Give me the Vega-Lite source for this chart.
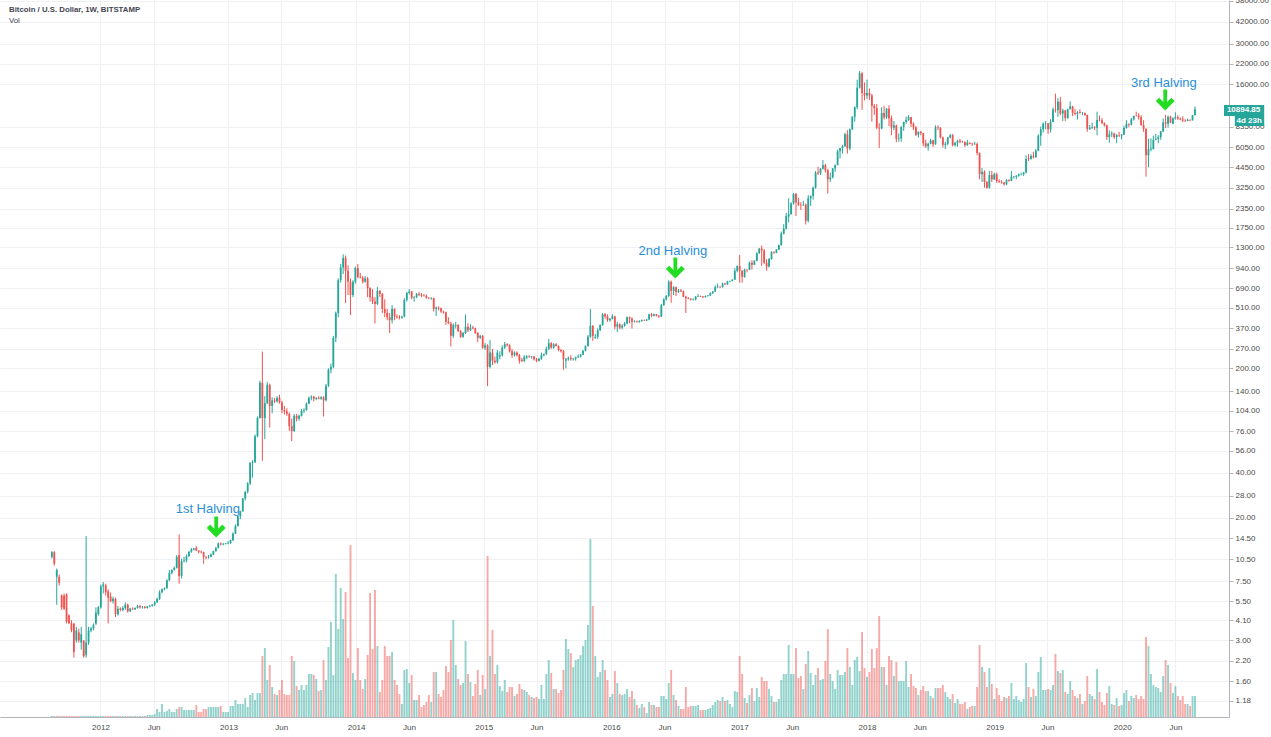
{
"$schema": "https://vega.github.io/schema/vega-lite/v6.json",
"width": 1229, "height": 717,
"autosize": {"type": "none"},
"padding": {"left": 0, "top": 0, "right": 42, "bottom": 20},
"background": "white",
"config": {"view": {"stroke": null}, "font": "Liberation Sans"},
"datasets": {"weekly": [
{"t":"2011-08-15","o":10.9,"h":11.9,"l":10.6,"c":11.7,"v":1},
{"t":"2011-08-22","o":11.7,"h":11.9,"l":9.5,"c":9.8,"v":1},
{"t":"2011-08-29","o":8.0,"h":9.1,"l":5.2,"c":8.9,"v":1},
{"t":"2011-09-05","o":8.0,"h":8.3,"l":7.0,"c":7.3,"v":1},
{"t":"2011-09-12","o":6.0,"h":6.1,"l":4.8,"c":5.0,"v":1},
{"t":"2011-09-19","o":6.0,"h":6.2,"l":4.8,"c":4.9,"v":1},
{"t":"2011-09-26","o":6.1,"h":6.2,"l":3.9,"c":4.0,"v":1},
{"t":"2011-10-03","o":4.4,"h":4.5,"l":3.9,"c":3.9,"v":1},
{"t":"2011-10-10","o":3.9,"h":4.1,"l":3.4,"c":3.5,"v":1},
{"t":"2011-10-17","o":3.9,"h":3.9,"l":2.3,"c":2.5,"v":1},
{"t":"2011-10-24","o":3.0,"h":3.7,"l":2.9,"c":3.5,"v":1},
{"t":"2011-10-31","o":3.4,"h":3.6,"l":2.9,"c":3.0,"v":1},
{"t":"2011-11-07","o":2.9,"h":3.7,"l":2.6,"c":3.3,"v":1},
{"t":"2011-11-14","o":3.0,"h":3.0,"l":2.3,"c":2.35,"v":1},
{"t":"2011-11-21","o":2.4,"h":15.0,"l":2.3,"c":2.9,"v":1},
{"t":"2011-11-28","o":2.9,"h":3.7,"l":2.8,"c":3.5,"v":1},
{"t":"2011-12-05","o":3.5,"h":3.7,"l":3.4,"c":3.6,"v":1},
{"t":"2011-12-12","o":3.6,"h":3.9,"l":3.5,"c":3.8,"v":1},
{"t":"2011-12-19","o":3.9,"h":5.0,"l":3.8,"c":4.6,"v":1},
{"t":"2011-12-26","o":4.5,"h":5.1,"l":4.4,"c":5.0,"v":1},
{"t":"2012-01-02","o":5.0,"h":7.1,"l":4.9,"c":6.9,"v":1},
{"t":"2012-01-09","o":6.9,"h":7.4,"l":6.2,"c":7.1,"v":1},
{"t":"2012-01-16","o":7.0,"h":7.2,"l":6.0,"c":6.3,"v":1},
{"t":"2012-01-23","o":6.4,"h":6.6,"l":3.9,"c":5.8,"v":1},
{"t":"2012-01-30","o":5.9,"h":6.3,"l":5.4,"c":5.5,"v":1},
{"t":"2012-02-06","o":5.5,"h":5.9,"l":5.3,"c":5.7,"v":1},
{"t":"2012-02-13","o":5.7,"h":5.8,"l":4.3,"c":4.5,"v":1},
{"t":"2012-02-20","o":4.5,"h":5.1,"l":4.4,"c":4.9,"v":1},
{"t":"2012-02-27","o":4.9,"h":5.0,"l":4.7,"c":4.8,"v":1},
{"t":"2012-03-05","o":4.8,"h":5.1,"l":4.7,"c":4.95,"v":1},
{"t":"2012-03-12","o":4.95,"h":5.4,"l":4.8,"c":5.2,"v":1},
{"t":"2012-03-19","o":5.2,"h":5.3,"l":4.6,"c":4.7,"v":1},
{"t":"2012-03-26","o":4.7,"h":4.95,"l":4.65,"c":4.9,"v":1},
{"t":"2012-04-02","o":4.9,"h":5.0,"l":4.8,"c":4.85,"v":1},
{"t":"2012-04-09","o":4.85,"h":5.0,"l":4.8,"c":4.95,"v":1},
{"t":"2012-04-16","o":4.95,"h":5.2,"l":4.9,"c":5.1,"v":1},
{"t":"2012-04-23","o":5.1,"h":5.2,"l":4.9,"c":5.0,"v":1},
{"t":"2012-04-30","o":5.0,"h":5.1,"l":4.9,"c":5.05,"v":1},
{"t":"2012-05-07","o":5.05,"h":5.1,"l":4.9,"c":4.95,"v":1},
{"t":"2012-05-14","o":4.95,"h":5.1,"l":4.9,"c":5.05,"v":2},
{"t":"2012-05-21","o":5.05,"h":5.2,"l":5.0,"c":5.1,"v":2},
{"t":"2012-05-28","o":5.1,"h":5.25,"l":5.05,"c":5.2,"v":2},
{"t":"2012-06-04","o":5.2,"h":5.5,"l":5.1,"c":5.4,"v":3},
{"t":"2012-06-11","o":5.4,"h":5.8,"l":5.35,"c":5.7,"v":8},
{"t":"2012-06-18","o":5.7,"h":6.5,"l":5.6,"c":6.3,"v":5},
{"t":"2012-06-25","o":6.3,"h":6.7,"l":6.2,"c":6.6,"v":13},
{"t":"2012-07-02","o":6.6,"h":6.8,"l":6.5,"c":6.7,"v":5},
{"t":"2012-07-09","o":6.7,"h":7.7,"l":6.65,"c":7.6,"v":6},
{"t":"2012-07-16","o":7.6,"h":8.9,"l":7.5,"c":8.5,"v":8},
{"t":"2012-07-23","o":8.5,"h":9.0,"l":8.3,"c":8.9,"v":5},
{"t":"2012-07-30","o":8.9,"h":9.4,"l":8.8,"c":9.2,"v":5},
{"t":"2012-08-06","o":9.2,"h":11.2,"l":9.1,"c":10.9,"v":8},
{"t":"2012-08-13","o":11.2,"h":15.4,"l":7.2,"c":8.1,"v":10},
{"t":"2012-08-20","o":8.1,"h":10.6,"l":7.8,"c":10.2,"v":10},
{"t":"2012-08-27","o":10.2,"h":10.9,"l":10.0,"c":10.3,"v":7},
{"t":"2012-09-03","o":10.3,"h":11.3,"l":10.0,"c":11.0,"v":7},
{"t":"2012-09-10","o":11.0,"h":11.9,"l":10.9,"c":11.8,"v":7},
{"t":"2012-09-17","o":11.8,"h":12.5,"l":11.6,"c":12.2,"v":7},
{"t":"2012-09-24","o":12.2,"h":12.5,"l":12.0,"c":12.4,"v":7},
{"t":"2012-10-01","o":12.5,"h":12.9,"l":11.9,"c":12.0,"v":12},
{"t":"2012-10-08","o":12.0,"h":12.1,"l":11.5,"c":11.8,"v":5},
{"t":"2012-10-15","o":11.8,"h":12.0,"l":11.5,"c":11.7,"v":5},
{"t":"2012-10-22","o":11.7,"h":11.8,"l":9.8,"c":10.9,"v":8},
{"t":"2012-10-29","o":10.9,"h":11.0,"l":10.5,"c":10.8,"v":8},
{"t":"2012-11-05","o":10.8,"h":11.2,"l":10.6,"c":10.9,"v":10},
{"t":"2012-11-12","o":10.9,"h":11.5,"l":10.8,"c":11.3,"v":10},
{"t":"2012-11-19","o":11.3,"h":12.0,"l":11.2,"c":11.9,"v":10},
{"t":"2012-11-26","o":11.9,"h":12.7,"l":11.8,"c":12.5,"v":10},
{"t":"2012-12-03","o":12.5,"h":13.6,"l":12.4,"c":13.4,"v":10},
{"t":"2012-12-10","o":13.4,"h":13.6,"l":13.0,"c":13.2,"v":11},
{"t":"2012-12-17","o":13.2,"h":13.5,"l":13.0,"c":13.3,"v":5},
{"t":"2012-12-24","o":13.3,"h":13.5,"l":13.2,"c":13.4,"v":5},
{"t":"2012-12-31","o":13.4,"h":13.9,"l":13.2,"c":13.5,"v":5},
{"t":"2013-01-07","o":13.5,"h":14.2,"l":13.3,"c":14.1,"v":11},
{"t":"2013-01-14","o":14.1,"h":15.9,"l":13.9,"c":15.6,"v":11},
{"t":"2013-01-21","o":15.6,"h":18.0,"l":15.5,"c":17.5,"v":17},
{"t":"2013-01-28","o":17.5,"h":20.7,"l":17.4,"c":20.4,"v":13},
{"t":"2013-02-04","o":20.4,"h":22.2,"l":19.5,"c":22.0,"v":13},
{"t":"2013-02-11","o":22.0,"h":27.0,"l":21.9,"c":26.8,"v":13},
{"t":"2013-02-18","o":26.8,"h":30.0,"l":26.0,"c":29.8,"v":19},
{"t":"2013-02-25","o":29.8,"h":34.5,"l":29.0,"c":33.9,"v":10},
{"t":"2013-03-04","o":33.9,"h":47.0,"l":33.0,"c":46.5,"v":22},
{"t":"2013-03-11","o":46.5,"h":48.4,"l":37.0,"c":46.9,"v":24},
{"t":"2013-03-18","o":46.9,"h":72.0,"l":46.5,"c":70.0,"v":17},
{"t":"2013-03-25","o":70.0,"h":95.0,"l":69.0,"c":93.0,"v":24},
{"t":"2013-04-01","o":93,"h":165,"l":92,"c":160,"v":24},
{"t":"2013-04-08","o":160,"h":259,"l":48,"c":93,"v":61},
{"t":"2013-04-15","o":93,"h":130,"l":67,"c":117,"v":69},
{"t":"2013-04-22","o":117,"h":162,"l":115,"c":155,"v":37},
{"t":"2013-04-29","o":155,"h":158,"l":80,"c":112,"v":52},
{"t":"2013-05-06","o":112,"h":128,"l":100,"c":122,"v":30},
{"t":"2013-05-13","o":122,"h":127,"l":117,"c":120,"v":23},
{"t":"2013-05-20","o":120,"h":130,"l":118,"c":127,"v":22},
{"t":"2013-05-27","o":127,"h":133,"l":116,"c":118,"v":27},
{"t":"2013-06-03","o":118,"h":121,"l":100,"c":105,"v":37},
{"t":"2013-06-10","o":105,"h":112,"l":98,"c":103,"v":23},
{"t":"2013-06-17","o":103,"h":108,"l":96,"c":99,"v":22},
{"t":"2013-06-24","o":99,"h":101,"l":76,"c":82,"v":22},
{"t":"2013-07-01","o":82,"h":92,"l":65,"c":76,"v":61},
{"t":"2013-07-08","o":76,"h":99,"l":75,"c":96,"v":56},
{"t":"2013-07-15","o":96,"h":99,"l":88,"c":92,"v":31},
{"t":"2013-07-22","o":92,"h":98,"l":89,"c":96,"v":27},
{"t":"2013-07-29","o":96,"h":107,"l":95,"c":104,"v":32},
{"t":"2013-08-05","o":104,"h":108,"l":100,"c":105,"v":27},
{"t":"2013-08-12","o":105,"h":118,"l":104,"c":116,"v":32},
{"t":"2013-08-19","o":116,"h":129,"l":115,"c":127,"v":43},
{"t":"2013-08-26","o":127,"h":132,"l":122,"c":129,"v":43},
{"t":"2013-09-02","o":129,"h":131,"l":120,"c":125,"v":42},
{"t":"2013-09-09","o":125,"h":128,"l":122,"c":127,"v":38},
{"t":"2013-09-16","o":127,"h":130,"l":124,"c":125,"v":26},
{"t":"2013-09-23","o":125,"h":130,"l":123,"c":128,"v":27},
{"t":"2013-09-30","o":128,"h":130,"l":95,"c":122,"v":57},
{"t":"2013-10-07","o":122,"h":157,"l":120,"c":153,"v":37},
{"t":"2013-10-14","o":153,"h":200,"l":150,"c":196,"v":70},
{"t":"2013-10-21","o":196,"h":215,"l":185,"c":205,"v":95},
{"t":"2013-10-28","o":205,"h":330,"l":200,"c":320,"v":42},
{"t":"2013-11-04","o":320,"h":480,"l":300,"c":470,"v":143},
{"t":"2013-11-11","o":470,"h":800,"l":440,"c":780,"v":88},
{"t":"2013-11-18","o":780,"h":1000,"l":750,"c":950,"v":129},
{"t":"2013-11-25","o":950,"h":1163,"l":855,"c":1100,"v":98},
{"t":"2013-12-02","o":1100,"h":1140,"l":548,"c":900,"v":125},
{"t":"2013-12-09","o":900,"h":980,"l":620,"c":760,"v":59},
{"t":"2013-12-16","o":760,"h":800,"l":455,"c":620,"v":172},
{"t":"2013-12-23","o":620,"h":780,"l":600,"c":760,"v":44},
{"t":"2013-12-30","o":760,"h":960,"l":740,"c":940,"v":37},
{"t":"2014-01-06","o":940,"h":1000,"l":800,"c":820,"v":69},
{"t":"2014-01-13","o":820,"h":870,"l":800,"c":810,"v":37},
{"t":"2014-01-20","o":810,"h":830,"l":740,"c":760,"v":28},
{"t":"2014-01-27","o":760,"h":830,"l":750,"c":800,"v":38},
{"t":"2014-02-03","o":800,"h":820,"l":600,"c":690,"v":62},
{"t":"2014-02-10","o":690,"h":700,"l":560,"c":600,"v":124},
{"t":"2014-02-17","o":600,"h":680,"l":540,"c":560,"v":68},
{"t":"2014-02-24","o":560,"h":600,"l":400,"c":540,"v":127},
{"t":"2014-03-03","o":540,"h":700,"l":530,"c":660,"v":71},
{"t":"2014-03-10","o":660,"h":670,"l":600,"c":630,"v":25},
{"t":"2014-03-17","o":630,"h":640,"l":470,"c":500,"v":37},
{"t":"2014-03-24","o":500,"h":580,"l":440,"c":470,"v":71},
{"t":"2014-03-31","o":470,"h":500,"l":420,"c":440,"v":61},
{"t":"2014-04-07","o":440,"h":470,"l":345,"c":420,"v":61},
{"t":"2014-04-14","o":420,"h":530,"l":400,"c":500,"v":65},
{"t":"2014-04-21","o":500,"h":505,"l":420,"c":445,"v":37},
{"t":"2014-04-28","o":445,"h":460,"l":430,"c":440,"v":32},
{"t":"2014-05-05","o":440,"h":455,"l":425,"c":436,"v":23},
{"t":"2014-05-12","o":436,"h":450,"l":430,"c":445,"v":13},
{"t":"2014-05-19","o":445,"h":590,"l":440,"c":575,"v":47},
{"t":"2014-05-26","o":575,"h":650,"l":560,"c":640,"v":48},
{"t":"2014-06-02","o":640,"h":680,"l":625,"c":655,"v":34},
{"t":"2014-06-09","o":655,"h":660,"l":580,"c":595,"v":42},
{"t":"2014-06-16","o":595,"h":610,"l":560,"c":600,"v":17},
{"t":"2014-06-23","o":600,"h":640,"l":590,"c":630,"v":17},
{"t":"2014-06-30","o":630,"h":650,"l":610,"c":620,"v":22},
{"t":"2014-07-07","o":620,"h":640,"l":600,"c":615,"v":10},
{"t":"2014-07-14","o":615,"h":630,"l":605,"c":612,"v":12},
{"t":"2014-07-21","o":612,"h":625,"l":585,"c":595,"v":15},
{"t":"2014-07-28","o":595,"h":600,"l":580,"c":590,"v":22},
{"t":"2014-08-04","o":590,"h":600,"l":575,"c":592,"v":15},
{"t":"2014-08-11","o":592,"h":595,"l":480,"c":500,"v":45},
{"t":"2014-08-18","o":500,"h":520,"l":450,"c":510,"v":45},
{"t":"2014-08-25","o":510,"h":520,"l":490,"c":505,"v":23},
{"t":"2014-09-01","o":505,"h":510,"l":470,"c":480,"v":20},
{"t":"2014-09-08","o":480,"h":485,"l":465,"c":475,"v":27},
{"t":"2014-09-15","o":475,"h":480,"l":390,"c":410,"v":51},
{"t":"2014-09-22","o":410,"h":440,"l":395,"c":400,"v":45},
{"t":"2014-09-29","o":400,"h":410,"l":280,"c":330,"v":77},
{"t":"2014-10-06","o":330,"h":400,"l":320,"c":390,"v":97},
{"t":"2014-10-13","o":385,"h":410,"l":370,"c":390,"v":52},
{"t":"2014-10-20","o":390,"h":395,"l":350,"c":355,"v":38},
{"t":"2014-10-27","o":355,"h":360,"l":320,"c":325,"v":32},
{"t":"2014-11-03","o":325,"h":350,"l":320,"c":345,"v":34},
{"t":"2014-11-10","o":345,"h":460,"l":340,"c":380,"v":76},
{"t":"2014-11-17","o":380,"h":400,"l":350,"c":360,"v":43},
{"t":"2014-11-24","o":360,"h":395,"l":355,"c":375,"v":35},
{"t":"2014-12-01","o":375,"h":385,"l":365,"c":370,"v":21},
{"t":"2014-12-08","o":370,"h":375,"l":340,"c":345,"v":33},
{"t":"2014-12-15","o":345,"h":350,"l":300,"c":320,"v":47},
{"t":"2014-12-22","o":320,"h":335,"l":315,"c":330,"v":22},
{"t":"2014-12-29","o":330,"h":335,"l":270,"c":275,"v":42},
{"t":"2015-01-05","o":275,"h":295,"l":265,"c":285,"v":28},
{"t":"2015-01-12","o":285,"h":290,"l":152,"c":205,"v":161},
{"t":"2015-01-19","o":205,"h":310,"l":200,"c":255,"v":61},
{"t":"2015-01-26","o":255,"h":270,"l":210,"c":225,"v":87},
{"t":"2015-02-02","o":225,"h":240,"l":215,"c":220,"v":43},
{"t":"2015-02-09","o":220,"h":265,"l":215,"c":255,"v":52},
{"t":"2015-02-16","o":240,"h":260,"l":230,"c":245,"v":31},
{"t":"2015-02-23","o":245,"h":285,"l":240,"c":275,"v":26},
{"t":"2015-03-02","o":275,"h":300,"l":270,"c":290,"v":37},
{"t":"2015-03-09","o":290,"h":295,"l":280,"c":285,"v":25},
{"t":"2015-03-16","o":285,"h":290,"l":255,"c":260,"v":30},
{"t":"2015-03-23","o":260,"h":270,"l":235,"c":245,"v":30},
{"t":"2015-03-30","o":245,"h":260,"l":240,"c":255,"v":21},
{"t":"2015-04-06","o":255,"h":260,"l":240,"c":245,"v":23},
{"t":"2015-04-13","o":245,"h":250,"l":215,"c":225,"v":33},
{"t":"2015-04-20","o":228,"h":235,"l":220,"c":224,"v":28},
{"t":"2015-04-27","o":224,"h":245,"l":220,"c":240,"v":27},
{"t":"2015-05-04","o":236,"h":245,"l":230,"c":240,"v":25},
{"t":"2015-05-11","o":240,"h":245,"l":235,"c":238,"v":22},
{"t":"2015-05-18","o":238,"h":242,"l":232,"c":240,"v":20},
{"t":"2015-05-25","o":240,"h":242,"l":225,"c":230,"v":19},
{"t":"2015-06-01","o":230,"h":235,"l":220,"c":225,"v":20},
{"t":"2015-06-08","o":225,"h":235,"l":222,"c":232,"v":18},
{"t":"2015-06-15","o":232,"h":255,"l":228,"c":245,"v":32},
{"t":"2015-06-22","o":245,"h":250,"l":240,"c":250,"v":18},
{"t":"2015-06-29","o":250,"h":280,"l":245,"c":270,"v":43},
{"t":"2015-07-06","o":270,"h":315,"l":265,"c":295,"v":57},
{"t":"2015-07-13","o":295,"h":300,"l":270,"c":275,"v":44},
{"t":"2015-07-20","o":275,"h":295,"l":270,"c":290,"v":28},
{"t":"2015-07-27","o":290,"h":295,"l":280,"c":282,"v":28},
{"t":"2015-08-03","o":282,"h":285,"l":260,"c":265,"v":24},
{"t":"2015-08-10","o":265,"h":270,"l":255,"c":260,"v":27},
{"t":"2015-08-17","o":260,"h":265,"l":195,"c":230,"v":47},
{"t":"2015-08-24","o":225,"h":235,"l":200,"c":230,"v":78},
{"t":"2015-08-31","o":230,"h":240,"l":225,"c":235,"v":68},
{"t":"2015-09-07","o":235,"h":245,"l":225,"c":230,"v":64},
{"t":"2015-09-14","o":230,"h":235,"l":225,"c":232,"v":50},
{"t":"2015-09-21","o":232,"h":240,"l":225,"c":237,"v":57},
{"t":"2015-09-28","o":237,"h":248,"l":235,"c":240,"v":58},
{"t":"2015-10-05","o":240,"h":250,"l":237,"c":247,"v":62},
{"t":"2015-10-12","o":247,"h":265,"l":245,"c":262,"v":71},
{"t":"2015-10-19","o":262,"h":285,"l":260,"c":282,"v":77},
{"t":"2015-10-26","o":282,"h":335,"l":280,"c":325,"v":92},
{"t":"2015-11-02","o":325,"h":500,"l":320,"c":385,"v":178},
{"t":"2015-11-09","o":385,"h":390,"l":305,"c":330,"v":111},
{"t":"2015-11-16","o":320,"h":340,"l":315,"c":325,"v":61},
{"t":"2015-11-23","o":325,"h":370,"l":315,"c":360,"v":40},
{"t":"2015-11-30","o":360,"h":395,"l":355,"c":390,"v":45},
{"t":"2015-12-07","o":390,"h":470,"l":385,"c":460,"v":57},
{"t":"2015-12-14","o":460,"h":470,"l":430,"c":445,"v":47},
{"t":"2015-12-21","o":445,"h":460,"l":410,"c":420,"v":37},
{"t":"2015-12-28","o":420,"h":435,"l":410,"c":430,"v":20},
{"t":"2016-01-04","o":430,"h":460,"l":425,"c":445,"v":23},
{"t":"2016-01-11","o":445,"h":450,"l":365,"c":380,"v":46},
{"t":"2016-01-18","o":380,"h":410,"l":350,"c":395,"v":34},
{"t":"2016-01-25","o":395,"h":400,"l":365,"c":375,"v":23},
{"t":"2016-02-01","o":375,"h":395,"l":365,"c":385,"v":22},
{"t":"2016-02-08","o":385,"h":410,"l":380,"c":400,"v":23},
{"t":"2016-02-15","o":400,"h":445,"l":395,"c":440,"v":28},
{"t":"2016-02-22","o":440,"h":445,"l":400,"c":430,"v":20},
{"t":"2016-02-29","o":430,"h":440,"l":370,"c":410,"v":26},
{"t":"2016-03-07","o":410,"h":420,"l":405,"c":412,"v":18},
{"t":"2016-03-14","o":412,"h":418,"l":405,"c":408,"v":12},
{"t":"2016-03-21","o":408,"h":420,"l":405,"c":415,"v":9},
{"t":"2016-03-28","o":415,"h":425,"l":410,"c":420,"v":13},
{"t":"2016-04-04","o":420,"h":425,"l":415,"c":418,"v":10},
{"t":"2016-04-11","o":418,"h":428,"l":415,"c":425,"v":4},
{"t":"2016-04-18","o":425,"h":465,"l":420,"c":460,"v":15},
{"t":"2016-04-25","o":460,"h":470,"l":440,"c":450,"v":12},
{"t":"2016-05-02","o":450,"h":465,"l":445,"c":460,"v":12},
{"t":"2016-05-09","o":460,"h":462,"l":445,"c":450,"v":10},
{"t":"2016-05-16","o":450,"h":455,"l":435,"c":445,"v":10},
{"t":"2016-05-23","o":445,"h":540,"l":440,"c":530,"v":21},
{"t":"2016-05-30","o":530,"h":590,"l":525,"c":580,"v":21},
{"t":"2016-06-06","o":580,"h":620,"l":570,"c":610,"v":18},
{"t":"2016-06-13","o":610,"h":780,"l":600,"c":760,"v":34},
{"t":"2016-06-20","o":760,"h":775,"l":550,"c":660,"v":47},
{"t":"2016-06-27","o":660,"h":710,"l":620,"c":700,"v":22},
{"t":"2016-07-04","o":700,"h":705,"l":610,"c":650,"v":17},
{"t":"2016-07-11","o":650,"h":680,"l":640,"c":665,"v":11},
{"t":"2016-07-18","o":665,"h":680,"l":650,"c":655,"v":8},
{"t":"2016-07-25","o":655,"h":665,"l":600,"c":605,"v":8},
{"t":"2016-08-01","o":605,"h":615,"l":470,"c":590,"v":30},
{"t":"2016-08-08","o":590,"h":600,"l":580,"c":585,"v":10},
{"t":"2016-08-15","o":585,"h":590,"l":570,"c":576,"v":11},
{"t":"2016-08-22","o":576,"h":590,"l":570,"c":580,"v":11},
{"t":"2016-08-29","o":580,"h":610,"l":570,"c":605,"v":11},
{"t":"2016-09-05","o":605,"h":630,"l":600,"c":610,"v":12},
{"t":"2016-09-12","o":610,"h":615,"l":600,"c":605,"v":7},
{"t":"2016-09-19","o":605,"h":610,"l":590,"c":600,"v":7},
{"t":"2016-09-26","o":600,"h":615,"l":595,"c":610,"v":7},
{"t":"2016-10-03","o":610,"h":620,"l":605,"c":615,"v":8},
{"t":"2016-10-10","o":615,"h":645,"l":610,"c":640,"v":9},
{"t":"2016-10-17","o":640,"h":660,"l":630,"c":655,"v":12},
{"t":"2016-10-24","o":655,"h":720,"l":650,"c":700,"v":15},
{"t":"2016-10-31","o":700,"h":740,"l":690,"c":705,"v":17},
{"t":"2016-11-07","o":705,"h":710,"l":690,"c":700,"v":16},
{"t":"2016-11-14","o":700,"h":750,"l":695,"c":740,"v":20},
{"t":"2016-11-21","o":740,"h":745,"l":725,"c":730,"v":16},
{"t":"2016-11-28","o":730,"h":770,"l":725,"c":765,"v":17},
{"t":"2016-12-05","o":765,"h":775,"l":755,"c":770,"v":13},
{"t":"2016-12-12","o":770,"h":790,"l":765,"c":785,"v":10},
{"t":"2016-12-19","o":785,"h":935,"l":785,"c":900,"v":26},
{"t":"2016-12-26","o":900,"h":980,"l":880,"c":970,"v":25},
{"t":"2017-01-02","o":970,"h":1150,"l":750,"c":900,"v":61},
{"t":"2017-01-09","o":900,"h":910,"l":750,"c":820,"v":43},
{"t":"2017-01-16","o":820,"h":930,"l":810,"c":920,"v":19},
{"t":"2017-01-23","o":920,"h":925,"l":880,"c":915,"v":14},
{"t":"2017-01-30","o":915,"h":1040,"l":910,"c":1020,"v":22},
{"t":"2017-02-06","o":1020,"h":1060,"l":920,"c":990,"v":29},
{"t":"2017-02-13","o":990,"h":1060,"l":985,"c":1050,"v":16},
{"t":"2017-02-20","o":1050,"h":1200,"l":1045,"c":1180,"v":29},
{"t":"2017-02-27","o":1180,"h":1280,"l":1170,"c":1270,"v":20},
{"t":"2017-03-06","o":1270,"h":1330,"l":970,"c":1230,"v":40},
{"t":"2017-03-13","o":1230,"h":1260,"l":1000,"c":1020,"v":36},
{"t":"2017-03-20","o":1020,"h":1080,"l":900,"c":960,"v":36},
{"t":"2017-03-27","o":960,"h":1100,"l":950,"c":1080,"v":28},
{"t":"2017-04-03","o":1080,"h":1220,"l":1070,"c":1200,"v":21},
{"t":"2017-04-10","o":1200,"h":1220,"l":1170,"c":1190,"v":15},
{"t":"2017-04-17","o":1190,"h":1260,"l":1180,"c":1250,"v":15},
{"t":"2017-04-24","o":1250,"h":1350,"l":1240,"c":1340,"v":18},
{"t":"2017-05-01","o":1340,"h":1650,"l":1330,"c":1600,"v":37},
{"t":"2017-05-08","o":1600,"h":1850,"l":1580,"c":1730,"v":43},
{"t":"2017-05-15","o":1730,"h":2200,"l":1700,"c":2100,"v":43},
{"t":"2017-05-22","o":2080,"h":2760,"l":1900,"c":2160,"v":72},
{"t":"2017-05-29","o":2160,"h":2600,"l":2150,"c":2550,"v":43},
{"t":"2017-06-05","o":2550,"h":3000,"l":2500,"c":2950,"v":43},
{"t":"2017-06-12","o":2950,"h":3000,"l":2100,"c":2600,"v":69},
{"t":"2017-06-19","o":2600,"h":2780,"l":2450,"c":2500,"v":39},
{"t":"2017-06-26","o":2500,"h":2600,"l":2300,"c":2480,"v":41},
{"t":"2017-07-03","o":2480,"h":2650,"l":2450,"c":2500,"v":28},
{"t":"2017-07-10","o":2500,"h":2550,"l":1840,"c":1950,"v":53},
{"t":"2017-07-17","o":1950,"h":2900,"l":1900,"c":2760,"v":66},
{"t":"2017-07-24","o":2760,"h":2880,"l":2450,"c":2860,"v":44},
{"t":"2017-07-31","o":2860,"h":3300,"l":2700,"c":3250,"v":32},
{"t":"2017-08-07","o":3250,"h":4200,"l":3200,"c":4100,"v":42},
{"t":"2017-08-14","o":4100,"h":4480,"l":3950,"c":4050,"v":49},
{"t":"2017-08-21","o":4050,"h":4400,"l":3950,"c":4350,"v":37},
{"t":"2017-08-28","o":4350,"h":4980,"l":4300,"c":4600,"v":38},
{"t":"2017-09-04","o":4600,"h":4700,"l":4100,"c":4250,"v":56},
{"t":"2017-09-11","o":4250,"h":4350,"l":2970,"c":3700,"v":88},
{"t":"2017-09-18","o":3700,"h":4100,"l":3550,"c":3800,"v":43},
{"t":"2017-09-25","o":3800,"h":4400,"l":3750,"c":4370,"v":36},
{"t":"2017-10-02","o":4370,"h":4650,"l":4150,"c":4600,"v":28},
{"t":"2017-10-09","o":4600,"h":5850,"l":4600,"c":5700,"v":47},
{"t":"2017-10-16","o":5700,"h":6000,"l":5100,"c":6000,"v":42},
{"t":"2017-10-23","o":6000,"h":6300,"l":5500,"c":6150,"v":42},
{"t":"2017-10-30","o":6150,"h":7600,"l":6100,"c":7400,"v":45},
{"t":"2017-11-06","o":7400,"h":7900,"l":5500,"c":5950,"v":69},
{"t":"2017-11-13","o":5950,"h":8100,"l":5800,"c":8000,"v":50},
{"t":"2017-11-20","o":8000,"h":9800,"l":7900,"c":9700,"v":32},
{"t":"2017-11-27","o":9700,"h":11400,"l":9000,"c":11250,"v":57},
{"t":"2017-12-04","o":11250,"h":17200,"l":10900,"c":15200,"v":60},
{"t":"2017-12-11","o":15200,"h":19666,"l":15000,"c":19000,"v":46},
{"t":"2017-12-18","o":19000,"h":19300,"l":10800,"c":14000,"v":85},
{"t":"2017-12-25","o":14000,"h":16500,"l":12500,"c":13500,"v":49},
{"t":"2018-01-01","o":13500,"h":17200,"l":12800,"c":14000,"v":40},
{"t":"2018-01-08","o":14000,"h":15000,"l":12600,"c":13500,"v":45},
{"t":"2018-01-15","o":13500,"h":13800,"l":9000,"c":11500,"v":68},
{"t":"2018-01-22","o":11500,"h":11800,"l":10000,"c":11100,"v":49},
{"t":"2018-01-29","o":11100,"h":11800,"l":8000,"c":8200,"v":69},
{"t":"2018-02-05","o":8200,"h":8800,"l":6000,"c":8100,"v":101},
{"t":"2018-02-12","o":8100,"h":11250,"l":8000,"c":10300,"v":50},
{"t":"2018-02-19","o":10300,"h":11500,"l":9300,"c":9600,"v":50},
{"t":"2018-02-26","o":9600,"h":11100,"l":9400,"c":11000,"v":32},
{"t":"2018-03-05","o":11000,"h":11600,"l":8400,"c":9500,"v":61},
{"t":"2018-03-12","o":9500,"h":9900,"l":7300,"c":8200,"v":57},
{"t":"2018-03-19","o":8200,"h":9100,"l":7900,"c":8500,"v":41},
{"t":"2018-03-26","o":8500,"h":8600,"l":6550,"c":6900,"v":55},
{"t":"2018-04-02","o":6900,"h":7500,"l":6600,"c":6950,"v":36},
{"t":"2018-04-09","o":6950,"h":8400,"l":6600,"c":8300,"v":36},
{"t":"2018-04-16","o":8300,"h":9000,"l":7800,"c":8950,"v":36},
{"t":"2018-04-23","o":8950,"h":9750,"l":8700,"c":9250,"v":56},
{"t":"2018-04-30","o":9250,"h":9950,"l":9100,"c":9650,"v":30},
{"t":"2018-05-07","o":9650,"h":9700,"l":8300,"c":8700,"v":43},
{"t":"2018-05-14","o":8700,"h":8900,"l":7900,"c":8250,"v":31},
{"t":"2018-05-21","o":8250,"h":8400,"l":7200,"c":7350,"v":29},
{"t":"2018-05-28","o":7350,"h":7750,"l":7050,"c":7700,"v":22},
{"t":"2018-06-04","o":7700,"h":7800,"l":7300,"c":7550,"v":27},
{"t":"2018-06-11","o":7550,"h":7550,"l":6150,"c":6450,"v":31},
{"t":"2018-06-18","o":6450,"h":6800,"l":6000,"c":6150,"v":26},
{"t":"2018-06-25","o":6150,"h":6500,"l":5750,"c":6400,"v":26},
{"t":"2018-07-02","o":6400,"h":6900,"l":6350,"c":6750,"v":21},
{"t":"2018-07-09","o":6750,"h":6800,"l":6100,"c":6350,"v":19},
{"t":"2018-07-16","o":6350,"h":8500,"l":6300,"c":8250,"v":29},
{"t":"2018-07-23","o":8250,"h":8500,"l":7900,"c":8200,"v":29},
{"t":"2018-07-30","o":8200,"h":8250,"l":6950,"c":7050,"v":29},
{"t":"2018-08-06","o":7050,"h":7150,"l":6050,"c":6300,"v":32},
{"t":"2018-08-13","o":6300,"h":6600,"l":5900,"c":6400,"v":25},
{"t":"2018-08-20","o":6400,"h":7100,"l":6250,"c":7050,"v":20},
{"t":"2018-08-27","o":7050,"h":7450,"l":6950,"c":7300,"v":18},
{"t":"2018-09-03","o":7300,"h":7450,"l":6150,"c":6250,"v":23},
{"t":"2018-09-10","o":6250,"h":6600,"l":6150,"c":6500,"v":14},
{"t":"2018-09-17","o":6500,"h":6800,"l":6100,"c":6700,"v":18},
{"t":"2018-09-24","o":6700,"h":6900,"l":6450,"c":6600,"v":13},
{"t":"2018-10-01","o":6600,"h":6700,"l":6500,"c":6580,"v":13},
{"t":"2018-10-08","o":6580,"h":6650,"l":6100,"c":6250,"v":15},
{"t":"2018-10-15","o":6250,"h":6800,"l":6200,"c":6500,"v":8},
{"t":"2018-10-22","o":6500,"h":6550,"l":6350,"c":6400,"v":10},
{"t":"2018-10-29","o":6400,"h":6500,"l":6200,"c":6350,"v":11},
{"t":"2018-11-05","o":6350,"h":6600,"l":6300,"c":6400,"v":11},
{"t":"2018-11-12","o":6400,"h":6500,"l":5350,"c":5550,"v":30},
{"t":"2018-11-19","o":5550,"h":5600,"l":3700,"c":4000,"v":72},
{"t":"2018-11-26","o":4000,"h":4400,"l":3550,"c":4150,"v":50},
{"t":"2018-12-03","o":4150,"h":4250,"l":3250,"c":3550,"v":45},
{"t":"2018-12-10","o":3550,"h":3600,"l":3200,"c":3250,"v":30},
{"t":"2018-12-17","o":3250,"h":4200,"l":3200,"c":3950,"v":49},
{"t":"2018-12-24","o":3950,"h":4200,"l":3550,"c":3700,"v":33},
{"t":"2018-12-31","o":3700,"h":4100,"l":3650,"c":4000,"v":18},
{"t":"2019-01-07","o":4000,"h":4100,"l":3500,"c":3600,"v":29},
{"t":"2019-01-14","o":3600,"h":3700,"l":3500,"c":3550,"v":22},
{"t":"2019-01-21","o":3550,"h":3650,"l":3450,"c":3520,"v":16},
{"t":"2019-01-28","o":3520,"h":3550,"l":3350,"c":3420,"v":20},
{"t":"2019-02-04","o":3420,"h":3700,"l":3380,"c":3650,"v":19},
{"t":"2019-02-11","o":3650,"h":3700,"l":3560,"c":3600,"v":21},
{"t":"2019-02-18","o":3600,"h":4200,"l":3600,"c":3850,"v":34},
{"t":"2019-02-25","o":3820,"h":3900,"l":3750,"c":3850,"v":18},
{"t":"2019-03-04","o":3850,"h":3950,"l":3700,"c":3900,"v":21},
{"t":"2019-03-11","o":3900,"h":4050,"l":3850,"c":3980,"v":17},
{"t":"2019-03-18","o":3980,"h":4100,"l":3930,"c":4000,"v":15},
{"t":"2019-03-25","o":4000,"h":4150,"l":3900,"c":4100,"v":18},
{"t":"2019-04-01","o":4100,"h":5350,"l":4050,"c":5050,"v":54},
{"t":"2019-04-08","o":5100,"h":5450,"l":4900,"c":5050,"v":30},
{"t":"2019-04-15","o":5050,"h":5450,"l":5000,"c":5300,"v":20},
{"t":"2019-04-22","o":5300,"h":5650,"l":5100,"c":5200,"v":28},
{"t":"2019-04-29","o":5200,"h":5900,"l":5150,"c":5750,"v":21},
{"t":"2019-05-06","o":5750,"h":7400,"l":5700,"c":7250,"v":45},
{"t":"2019-05-13","o":7250,"h":8350,"l":6200,"c":8000,"v":60},
{"t":"2019-05-20","o":8000,"h":8900,"l":7600,"c":8700,"v":27},
{"t":"2019-05-27","o":8700,"h":9100,"l":8000,"c":8750,"v":27},
{"t":"2019-06-03","o":8750,"h":8800,"l":7450,"c":8000,"v":28},
{"t":"2019-06-10","o":8000,"h":9350,"l":7600,"c":8950,"v":27},
{"t":"2019-06-17","o":8950,"h":11200,"l":8950,"c":10850,"v":32},
{"t":"2019-06-24","o":10850,"h":13880,"l":10350,"c":10750,"v":63},
{"t":"2019-07-01","o":10750,"h":12950,"l":9700,"c":12250,"v":46},
{"t":"2019-07-08","o":12250,"h":13200,"l":9950,"c":10200,"v":44},
{"t":"2019-07-15","o":10200,"h":11000,"l":9100,"c":10700,"v":47},
{"t":"2019-07-22","o":10700,"h":10800,"l":9100,"c":9500,"v":25},
{"t":"2019-07-29","o":9500,"h":11000,"l":9400,"c":10900,"v":23},
{"t":"2019-08-05","o":10900,"h":12300,"l":10900,"c":11400,"v":36},
{"t":"2019-08-12","o":11400,"h":11500,"l":9800,"c":10300,"v":27},
{"t":"2019-08-19","o":10300,"h":10950,"l":9900,"c":10150,"v":21},
{"t":"2019-08-26","o":10150,"h":10600,"l":9300,"c":10400,"v":19},
{"t":"2019-09-02","o":10400,"h":10900,"l":10200,"c":10300,"v":23},
{"t":"2019-09-09","o":10300,"h":10450,"l":9950,"c":10320,"v":13},
{"t":"2019-09-16","o":10320,"h":10350,"l":9850,"c":9950,"v":16},
{"t":"2019-09-23","o":9950,"h":10050,"l":7700,"c":8050,"v":41},
{"t":"2019-09-30","o":8050,"h":8550,"l":7900,"c":8200,"v":23},
{"t":"2019-10-07","o":8200,"h":8850,"l":8050,"c":8300,"v":21},
{"t":"2019-10-14","o":8300,"h":8400,"l":7900,"c":8200,"v":18},
{"t":"2019-10-21","o":8200,"h":10500,"l":7300,"c":9250,"v":48},
{"t":"2019-10-28","o":9250,"h":9900,"l":9050,"c":9200,"v":25},
{"t":"2019-11-04","o":9200,"h":9500,"l":8700,"c":8800,"v":15},
{"t":"2019-11-11","o":8800,"h":8900,"l":8350,"c":8500,"v":12},
{"t":"2019-11-18","o":8500,"h":8600,"l":6800,"c":7100,"v":24},
{"t":"2019-11-25","o":7100,"h":7850,"l":6500,"c":7400,"v":31},
{"t":"2019-12-02","o":7400,"h":7750,"l":7100,"c":7500,"v":13},
{"t":"2019-12-09","o":7500,"h":7600,"l":6900,"c":7100,"v":12},
{"t":"2019-12-16","o":7100,"h":7450,"l":6450,"c":7300,"v":19},
{"t":"2019-12-23","o":7300,"h":7700,"l":7100,"c":7250,"v":11},
{"t":"2019-12-30","o":7250,"h":7450,"l":6850,"c":7350,"v":12},
{"t":"2020-01-06","o":7350,"h":8450,"l":7350,"c":8150,"v":24},
{"t":"2020-01-13","o":8150,"h":9200,"l":8100,"c":8700,"v":27},
{"t":"2020-01-20","o":8700,"h":8750,"l":8250,"c":8600,"v":16},
{"t":"2020-01-27","o":8600,"h":9550,"l":8500,"c":9350,"v":21},
{"t":"2020-02-03","o":9350,"h":9850,"l":9150,"c":9850,"v":19},
{"t":"2020-02-10","o":9900,"h":10500,"l":9750,"c":9880,"v":22},
{"t":"2020-02-17","o":9880,"h":10250,"l":9300,"c":9650,"v":18},
{"t":"2020-02-24","o":9650,"h":9950,"l":8450,"c":8550,"v":21},
{"t":"2020-03-02","o":8550,"h":9200,"l":7700,"c":8050,"v":18},
{"t":"2020-03-09","o":8050,"h":8150,"l":3850,"c":5350,"v":80},
{"t":"2020-03-16","o":5350,"h":6900,"l":4450,"c":5900,"v":71},
{"t":"2020-03-23","o":5850,"h":6950,"l":5700,"c":5950,"v":43},
{"t":"2020-03-30","o":5900,"h":7250,"l":5850,"c":6800,"v":32},
{"t":"2020-04-06","o":6800,"h":7450,"l":6750,"c":6900,"v":30},
{"t":"2020-04-13","o":6900,"h":7300,"l":6450,"c":7100,"v":29},
{"t":"2020-04-20","o":7100,"h":7800,"l":6800,"c":7750,"v":25},
{"t":"2020-04-27","o":7750,"h":9450,"l":7650,"c":8900,"v":41},
{"t":"2020-05-04","o":8900,"h":10000,"l":8150,"c":8700,"v":57},
{"t":"2020-05-11","o":8700,"h":9900,"l":8200,"c":9700,"v":52},
{"t":"2020-05-18","o":9700,"h":9850,"l":8800,"c":8900,"v":34},
{"t":"2020-05-25","o":8700,"h":9650,"l":8650,"c":9450,"v":24},
{"t":"2020-06-01","o":9450,"h":10400,"l":9300,"c":9650,"v":31},
{"t":"2020-06-08","o":9650,"h":9950,"l":9250,"c":9450,"v":21},
{"t":"2020-06-15","o":9450,"h":9600,"l":9200,"c":9300,"v":17},
{"t":"2020-06-22","o":9300,"h":9800,"l":8950,"c":9150,"v":21},
{"t":"2020-06-29","o":9150,"h":9350,"l":8950,"c":9100,"v":13},
{"t":"2020-07-06","o":9100,"h":9450,"l":9050,"c":9250,"v":13},
{"t":"2020-07-13","o":9250,"h":9350,"l":9050,"c":9200,"v":11},
{"t":"2020-07-20","o":9200,"h":10000,"l":9150,"c":9950,"v":21},
{"t":"2020-07-27","o":9950,"h":11400,"l":9950,"c":10894.85,"v":21}
]},
"layer": [
{
"data": {"name": "weekly"},
"mark": {"type": "bar", "size": 1.9, "opacity": 0.5},
"encoding": {
"x": {"field": "t", "type": "temporal",
"scale": {"type": "utc", "domain": [{"year": 2011, "month": 4, "date": 3, "utc": true}, {"year": 2020, "month": 10, "date": 18, "utc": true}]},
"axis": {"title": null, "grid": true, "gridColor": "#eef0f4", "domainColor": "#b2b5be", "ticks": false, "labelPadding": 6, "labelFontSize": 8, "labelColor": "#4a4a4a", "labelFont": "Liberation Sans", "labelOverlap": false, "labelFlush": false,
"values": [{"year": 2012, "month": 1, "date": 1, "utc": true}, {"year": 2012, "month": 6, "date": 1, "utc": true}, {"year": 2013, "month": 1, "date": 1, "utc": true}, {"year": 2013, "month": 6, "date": 1, "utc": true}, {"year": 2014, "month": 1, "date": 1, "utc": true}, {"year": 2014, "month": 6, "date": 1, "utc": true}, {"year": 2015, "month": 1, "date": 1, "utc": true}, {"year": 2015, "month": 6, "date": 1, "utc": true}, {"year": 2016, "month": 1, "date": 1, "utc": true}, {"year": 2016, "month": 6, "date": 1, "utc": true}, {"year": 2017, "month": 1, "date": 1, "utc": true}, {"year": 2017, "month": 6, "date": 1, "utc": true}, {"year": 2018, "month": 1, "date": 1, "utc": true}, {"year": 2018, "month": 6, "date": 1, "utc": true}, {"year": 2019, "month": 1, "date": 1, "utc": true}, {"year": 2019, "month": 6, "date": 1, "utc": true}, {"year": 2020, "month": 1, "date": 1, "utc": true}, {"year": 2020, "month": 6, "date": 1, "utc": true}],
"labelExpr": "utcmonth(datum.value) == 0 ? utcFormat(datum.value, '%Y') : 'Jun'"}},
"y": {"field": "v", "type": "quantitative", "axis": null, "scale": {"domain": [0, 717], "nice": false}},
"color": {"condition": {"test": "datum.c >= datum.o", "value": "#26a69a"}, "value": "#ef5350"}
}
},
{
"layer": [
{
"data": {"name": "weekly"},
"mark": {"type": "rule", "strokeWidth": 1},
"encoding": {
"x": {"field": "t", "type": "temporal", "title": null,
"scale": {"type": "utc", "domain": [{"year": 2011, "month": 4, "date": 3, "utc": true}, {"year": 2020, "month": 10, "date": 18, "utc": true}]}},
"y": {"field": "l", "type": "quantitative",
"scale": {"type": "log", "domain": [0.92, 58860], "nice": false},
"axis": {"orient": "right", "title": null, "grid": true, "gridColor": "#eef0f4", "domainColor": "#b2b5be", "tickColor": "#b2b5be", "tickSize": 4, "labelPadding": 2, "labelFontSize": 8, "labelColor": "#4a4a4a", "labelFont": "Liberation Sans", "labelOverlap": false, "labelFlush": false, "format": ".2f",
"values": [1.18, 1.6, 2.2, 3, 4.1, 5.5, 7.5, 10.5, 14.5, 20, 28, 40, 56, 76, 104, 140, 200, 270, 370, 510, 690, 940, 1300, 1750, 2350, 3250, 4450, 6050, 8350, 16000, 22000, 30000, 42000, 58000]}},
"y2": {"field": "h"},
"color": {"condition": {"test": "datum.c >= datum.o", "value": "#26a69a"}, "value": "#ef5350"}
}
},
{
"mark": {"type": "rule", "color": "#86cfc8", "strokeWidth": 1},
"encoding": {
"y": {"datum": 10894.85, "type": "quantitative", "title": null, "scale": {"type": "log", "domain": [0.92, 58860], "nice": false}}
}
},
{
"data": {"name": "weekly"},
"mark": {"type": "bar", "size": 1.8},
"encoding": {
"x": {"field": "t", "type": "temporal", "title": null,
"scale": {"type": "utc", "domain": [{"year": 2011, "month": 4, "date": 3, "utc": true}, {"year": 2020, "month": 10, "date": 18, "utc": true}]}},
"y": {"field": "o", "type": "quantitative", "title": null, "scale": {"type": "log", "domain": [0.92, 58860], "nice": false}},
"y2": {"field": "c"},
"color": {"condition": {"test": "datum.c >= datum.o", "value": "#26a69a"}, "value": "#ef5350"}
}
},
{
"data": {"values": [
{"t": "2020-10-18", "t2": "2021-02-10", "p": 11641, "p2": 9822},
{"t": "2020-11-18", "t2": "2021-02-10", "p": 9822, "p2": 8418}
]},
"mark": {"type": "rect", "color": "#26a69a"},
"encoding": {
"x": {"field": "t", "type": "temporal", "title": null,
"scale": {"type": "utc", "domain": [{"year": 2011, "month": 4, "date": 3, "utc": true}, {"year": 2020, "month": 10, "date": 18, "utc": true}]}},
"x2": {"field": "t2"},
"y": {"field": "p", "type": "quantitative", "title": null, "scale": {"type": "log", "domain": [0.92, 58860], "nice": false}},
"y2": {"field": "p2"}
}
},
{
"data": {"values": [
{"t": "2020-12-13", "p": 10800, "label": "10894.85"},
{"t": "2020-12-29", "p": 9093, "label": "4d 23h"}
]},
"mark": {"type": "text", "color": "white", "fontSize": 8, "font": "Liberation Sans", "fontWeight": "bold", "align": "center", "baseline": "middle"},
"encoding": {
"x": {"field": "t", "type": "temporal", "title": null,
"scale": {"type": "utc", "domain": [{"year": 2011, "month": 4, "date": 3, "utc": true}, {"year": 2020, "month": 10, "date": 18, "utc": true}]}},
"y": {"field": "p", "type": "quantitative", "title": null, "scale": {"type": "log", "domain": [0.92, 58860], "nice": false}},
"text": {"field": "label"}
}
},
{
"data": {"values": [
{"t": "2012-11-03", "p": 22.8, "label": "1st Halving"},
{"t": "2016-06-25", "p": 1223, "label": "2nd Halving"},
{"t": "2020-04-29", "p": 16350, "label": "3rd Halving"}
]},
"mark": {"type": "text", "color": "#2a8fd8", "fontSize": 13, "font": "Liberation Sans", "align": "center", "baseline": "middle"},
"encoding": {
"x": {"field": "t", "type": "temporal", "title": null,
"scale": {"type": "utc", "domain": [{"year": 2011, "month": 4, "date": 3, "utc": true}, {"year": 2020, "month": 10, "date": 18, "utc": true}]}},
"y": {"field": "p", "type": "quantitative", "title": null, "scale": {"type": "log", "domain": [0.92, 58860], "nice": false}},
"text": {"field": "label"}
}
},
{
"data": {"values": [
{"t": "2012-11-27", "p": 17.3},
{"t": "2016-07-02", "p": 940},
{"t": "2020-05-03", "p": 12575}
]},
"mark": {"type": "point", "filled": true, "opacity": 1, "color": "#22dd22", "size": 440, "shape": "M0,1 L0.9,0.1 L0.582,-0.218 L0.18,0.184 L0.18,-1 L-0.18,-1 L-0.18,0.184 L-0.582,-0.218 L-0.9,0.1 Z"},
"encoding": {
"x": {"field": "t", "type": "temporal", "title": null,
"scale": {"type": "utc", "domain": [{"year": 2011, "month": 4, "date": 3, "utc": true}, {"year": 2020, "month": 10, "date": 18, "utc": true}]}},
"y": {"field": "p", "type": "quantitative", "title": null, "scale": {"type": "log", "domain": [0.92, 58860], "nice": false}}
}
},
{
"data": {"values": [
{"t": "2011-04-03", "p": 58860, "label": "Bitcoin / U.S. Dollar, 1W, BITSTAMP"}
]},
"mark": {"type": "text", "color": "#434651", "fontSize": 7.8, "font": "Liberation Sans", "fontWeight": "bold", "align": "left", "baseline": "middle", "dx": 4, "dy": 10},
"encoding": {
"x": {"field": "t", "type": "temporal", "title": null,
"scale": {"type": "utc", "domain": [{"year": 2011, "month": 4, "date": 3, "utc": true}, {"year": 2020, "month": 10, "date": 18, "utc": true}]}},
"y": {"field": "p", "type": "quantitative", "title": null, "scale": {"type": "log", "domain": [0.92, 58860], "nice": false}},
"text": {"field": "label"}
}
},
{
"data": {"values": [
{"t": "2011-04-03", "p": 58860, "label": "Vol"}
]},
"mark": {"type": "text", "color": "#434651", "fontSize": 7.8, "font": "Liberation Sans", "align": "left", "baseline": "middle", "dx": 4, "dy": 21},
"encoding": {
"x": {"field": "t", "type": "temporal", "title": null,
"scale": {"type": "utc", "domain": [{"year": 2011, "month": 4, "date": 3, "utc": true}, {"year": 2020, "month": 10, "date": 18, "utc": true}]}},
"y": {"field": "p", "type": "quantitative", "title": null, "scale": {"type": "log", "domain": [0.92, 58860], "nice": false}},
"text": {"field": "label"}
}
}
]
}
],
"resolve": {"scale": {"y": "independent"}}
}
